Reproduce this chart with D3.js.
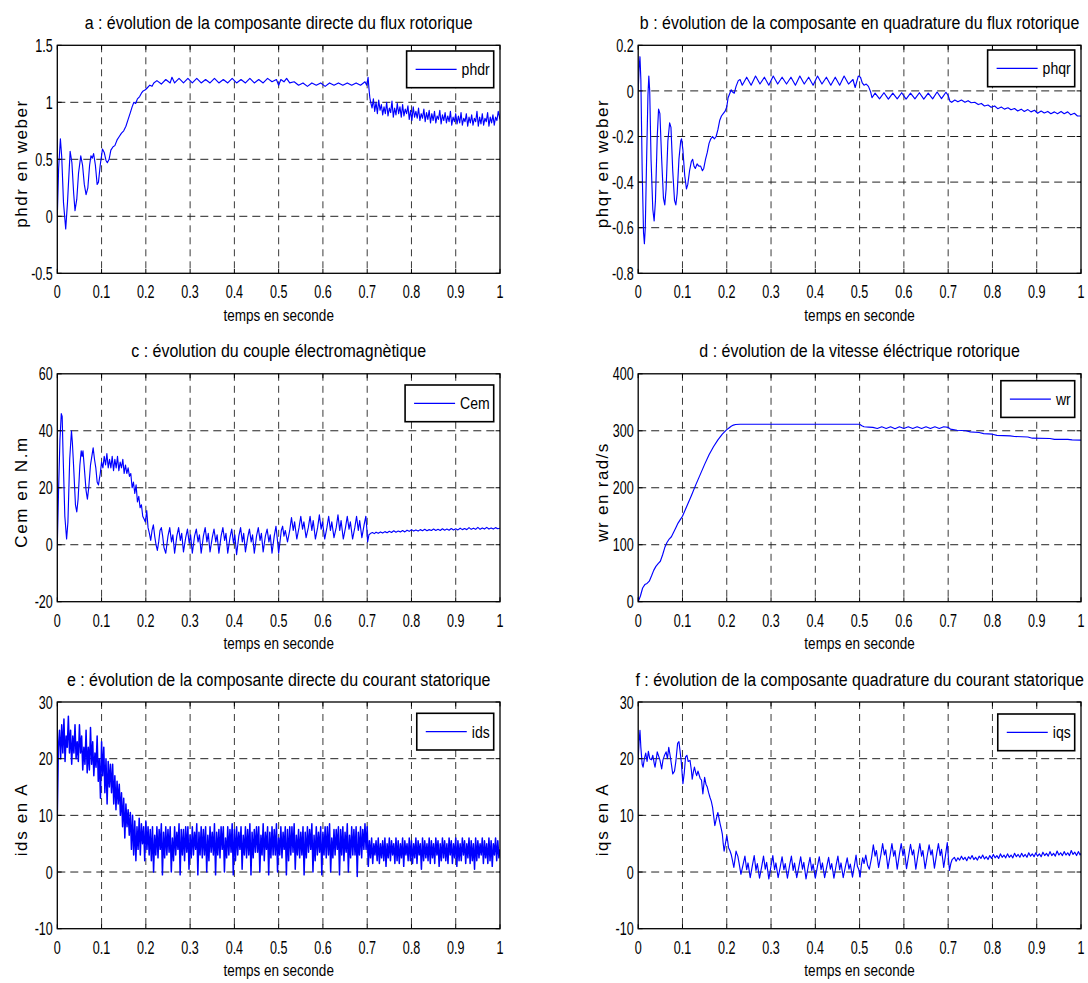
<!DOCTYPE html>
<html>
<head>
<meta charset="utf-8">
<script src="https://cdn.jsdelivr.net/npm/d3@7"></script>
<style>
  body { margin: 0; background: #fff; }
</style>
</head>
<body>
<svg id="fig" width="1088" height="983"></svg>
<script>
// ---- texts --------------------------------------------------------------
const titles = [
  "a : évolution de la composante directe du flux rotorique",
  "b : évolution de la composante en quadrature du flux rotorique",
  "c : évolution du couple électromagnètique",
  "d : évolution de la vitesse éléctrique rotorique",
  "e : évolution de la composante directe du courant statorique",
  "f : évolution de la composante quadrature du courant statorique"
];
const yLabels = ["phdr en weber", "phqr en weber", "Cem en N.m", "wr en rad/s", "ids en A", "iqs en A"];
const legendNames = ["phdr", "phqr", "Cem", "wr", "ids", "iqs"];
const xLabel = "temps en seconde";

// ---- ticks --------------------------------------------------------------
const timeTicks = [0, 0.1, 0.2, 0.3, 0.4, 0.5, 0.6, 0.7, 0.8, 0.9, 1];
const timeTickLabels = ["0", "0.1", "0.2", "0.3", "0.4", "0.5", "0.6", "0.7", "0.8", "0.9", "1"];
const fluxDTicks = [-0.5, 0, 0.5, 1, 1.5];
const fluxDTickLabels = ["-0.5", "0", "0.5", "1", "1.5"];
const fluxQTicks = [-0.8, -0.6, -0.4, -0.2, 0, 0.2];
const fluxQTickLabels = ["-0.8", "-0.6", "-0.4", "-0.2", "0", "0.2"];
const torqueTicks = [-20, 0, 20, 40, 60];
const torqueTickLabels = ["-20", "0", "20", "40", "60"];
const speedTicks = [0, 100, 200, 300, 400];
const speedTickLabels = ["0", "100", "200", "300", "400"];
const currentTicks = [-10, 0, 10, 20, 30];
const currentTickLabels = ["-10", "0", "10", "20", "30"];

// ---- series: [time (s), value] ------------------------------------------
const phdr = [
  [0,0],[0.003,0.42],[0.007,0.68],[0.010,0.52],[0.014,0.12],[0.019,-0.11],[0.023,0.12],[0.029,0.57],
  [0.033,0.47],[0.037,0.2],[0.040,0.05],[0.044,0.15],[0.048,0.38],[0.053,0.53],[0.057,0.45],[0.061,0.28],
  [0.065,0.19],[0.069,0.25],[0.073,0.45],[0.076,0.53],[0.079,0.51],[0.082,0.55],[0.086,0.45],[0.090,0.28],
  [0.093,0.3],[0.097,0.45],[0.102,0.59],[0.106,0.56],[0.110,0.49],[0.113,0.47],[0.117,0.5],[0.121,0.58],
  [0.126,0.61],[0.130,0.62],[0.135,0.67],[0.140,0.7],[0.145,0.73],[0.150,0.75],[0.155,0.79],[0.160,0.85],
  [0.165,0.91],[0.169,0.96],[0.173,1.0],[0.177,0.99],[0.181,1.03],[0.186,1.05],[0.19,1.08],[0.194,1.1],
  [0.199,1.11],[0.204,1.13],[0.209,1.15],[0.214,1.14],[0.218,1.17],
  [0.225,1.19],[0.235,1.16],[0.245,1.2],[0.255,1.17],[0.259,1.22],[0.265,1.17],[0.275,1.21],[0.285,1.17],
  [0.295,1.21],[0.305,1.17],[0.315,1.21],[0.325,1.17],[0.335,1.2],[0.345,1.17],[0.355,1.21],[0.365,1.17],
  [0.375,1.2],[0.385,1.17],[0.395,1.21],[0.405,1.17],[0.415,1.2],[0.425,1.17],[0.435,1.21],[0.445,1.17],
  [0.455,1.2],[0.465,1.17],[0.475,1.21],[0.485,1.18],[0.495,1.2],[0.5,1.15],[0.505,1.2],[0.512,1.18],
  [0.518,1.21],[0.525,1.17],[0.535,1.18],[0.545,1.15],[0.555,1.17],[0.565,1.14],[0.575,1.17],[0.585,1.15],
  [0.595,1.17],[0.605,1.14],[0.615,1.17],[0.625,1.15],[0.635,1.17],[0.645,1.15],[0.655,1.17],[0.665,1.15],
  [0.675,1.17],[0.685,1.15],[0.695,1.18],[0.699,1.15],[0.702,1.22],[0.704,1.12],[0.706,1.04],[0.708,1.0],
  [0.711,0.95],[0.714,1.03],[0.717,0.92],[0.72,1.0],[0.723,0.9],[0.726,1.02],[0.729,0.93],[0.732,0.98],
  [0.735,0.89],[0.738,0.96],[0.741,0.9],[0.744,1.0],[0.747,0.88],[0.75,0.95],[0.753,0.91],[0.756,1.01],
  [0.759,0.87],[0.762,0.95],[0.765,0.89],[0.768,0.99],[0.771,0.9],[0.774,0.96],[0.777,0.87],[0.78,0.98],
  [0.783,0.88],[0.786,0.94],[0.789,0.9],[0.792,0.97],[0.795,0.85],[0.798,0.93],[0.801,0.84],[0.804,0.96],
  [0.807,0.87],[0.81,0.92],[0.813,0.86],[0.816,0.95],[0.819,0.84],[0.822,0.9],[0.825,0.86],[0.828,0.94],
  [0.831,0.83],[0.834,0.91],[0.837,0.85],[0.84,0.93],[0.843,0.82],[0.846,0.9],[0.849,0.84],[0.852,0.92],
  [0.855,0.82],[0.858,0.88],[0.861,0.85],[0.864,0.93],[0.867,0.81],[0.87,0.89],[0.873,0.84],[0.876,0.91],
  [0.879,0.82],[0.882,0.88],[0.885,0.83],[0.888,0.92],[0.891,0.8],[0.894,0.87],[0.897,0.83],[0.9,0.9],
  [0.903,0.81],[0.906,0.88],[0.909,0.82],[0.912,0.91],[0.915,0.8],[0.918,0.86],[0.921,0.83],[0.924,0.9],
  [0.927,0.79],[0.93,0.87],[0.933,0.82],[0.936,0.89],[0.939,0.8],[0.942,0.86],[0.945,0.83],[0.948,0.92],
  [0.951,0.79],[0.954,0.87],[0.957,0.81],[0.96,0.9],[0.963,0.8],[0.966,0.86],[0.969,0.83],[0.972,0.91],
  [0.975,0.79],[0.978,0.87],[0.981,0.82],[0.984,0.89],[0.987,0.8],[0.99,0.87],[0.993,0.84],[0.996,0.92],[1.0,0.85]
];

const phqr = [
  [0,0],[0.002,0.1],[0.004,0.15],[0.006,0.05],[0.009,-0.35],[0.012,-0.62],[0.014,-0.67],[0.016,-0.6],
  [0.019,-0.3],[0.022,-0.02],[0.024,0.065],[0.026,0.0],[0.029,-0.3],[0.033,-0.52],[0.036,-0.57],[0.039,-0.48],
  [0.043,-0.2],[0.046,-0.08],[0.049,-0.1],[0.053,-0.3],[0.057,-0.47],[0.06,-0.5],[0.063,-0.43],[0.067,-0.22],
  [0.071,-0.14],[0.074,-0.16],[0.078,-0.35],[0.082,-0.48],[0.085,-0.5],[0.088,-0.45],[0.092,-0.3],[0.096,-0.22],
  [0.098,-0.21],[0.101,-0.26],[0.105,-0.37],[0.109,-0.43],[0.112,-0.41],[0.116,-0.35],[0.12,-0.31],[0.123,-0.3],
  [0.126,-0.33],[0.129,-0.34],[0.133,-0.32],[0.137,-0.33],[0.141,-0.33],[0.145,-0.35],[0.148,-0.34],[0.152,-0.3],
  [0.156,-0.27],[0.16,-0.23],[0.164,-0.21],[0.168,-0.2],[0.172,-0.21],[0.176,-0.2],[0.18,-0.17],[0.184,-0.13],
  [0.188,-0.11],[0.192,-0.1],[0.196,-0.09],[0.2,-0.07],[0.203,-0.03],[0.207,-0.01],[0.21,0.005],[0.213,-0.005],
  [0.217,-0.01],[0.221,0.02],[0.226,0.045],[0.23,0.05],[0.235,0.025],
  [0.245,0.06],[0.255,0.025],[0.265,0.065],[0.275,0.03],[0.285,0.06],[0.295,0.025],[0.305,0.065],[0.315,0.03],
  [0.325,0.06],[0.335,0.03],[0.345,0.06],[0.355,0.025],[0.365,0.065],[0.375,0.03],[0.385,0.06],[0.395,0.025],
  [0.405,0.065],[0.415,0.03],[0.425,0.06],[0.435,0.025],[0.445,0.06],[0.455,0.025],[0.465,0.065],[0.475,0.03],
  [0.485,0.05],[0.49,0.015],[0.497,0.065],[0.502,0.06],[0.506,0.035],[0.51,0.025],[0.515,0.03],[0.52,0.02],
  [0.525,-0.005],[0.528,-0.03],
  [0.535,-0.01],[0.545,-0.035],[0.555,-0.008],[0.565,-0.036],[0.575,-0.01],[0.585,-0.035],[0.595,-0.008],
  [0.605,-0.036],[0.615,-0.01],[0.625,-0.035],[0.635,-0.008],[0.645,-0.036],[0.655,-0.01],[0.665,-0.035],
  [0.675,-0.005],[0.685,-0.034],[0.695,-0.006],[0.7,-0.02],[0.704,-0.045],[0.708,-0.05],
  [0.715,-0.04],[0.722,-0.048],[0.73,-0.04],[0.738,-0.05],[0.745,-0.043],[0.752,-0.052],[0.76,-0.05],
  [0.768,-0.06],[0.775,-0.055],[0.782,-0.066],[0.79,-0.062],[0.797,-0.072],[0.805,-0.066],[0.812,-0.078],
  [0.82,-0.071],[0.827,-0.08],[0.835,-0.074],[0.842,-0.083],[0.85,-0.077],[0.857,-0.088],[0.865,-0.08],
  [0.872,-0.09],[0.88,-0.082],[0.887,-0.092],[0.895,-0.085],[0.902,-0.098],[0.91,-0.088],[0.917,-0.097],
  [0.925,-0.09],[0.932,-0.1],[0.94,-0.092],[0.947,-0.1],[0.955,-0.09],[0.962,-0.1],[0.97,-0.092],
  [0.977,-0.105],[0.985,-0.098],[0.992,-0.11],[1.0,-0.11]
];

const cem = [
  [0,0],[0.003,20],[0.006,37],[0.009,46],[0.011,45],[0.013,32],[0.017,10],[0.021,2],[0.024,8],[0.028,30],
  [0.032,40],[0.034,36],[0.037,27],[0.041,14],[0.044,11.5],[0.047,16],[0.051,28],[0.054,33],[0.056,31],
  [0.058,33],[0.061,27],[0.065,19],[0.068,16],[0.071,20],[0.075,28],[0.078,31],[0.081,34],[0.084,30],
  [0.087,27],[0.09,22],[0.093,21],[0.097,25],[0.1,29],[0.103,27],[0.106,31],[0.109,28],[0.112,32],
  [0.115,27],[0.118,30],[0.121,27],[0.124,31],[0.127,26],[0.13,30],[0.133,27],[0.136,31],[0.139,26],
  [0.142,29],[0.145,27],[0.148,30],[0.151,25],[0.154,28],[0.157,25],[0.16,27],[0.163,24],[0.166,25],
  [0.169,20],[0.172,22],[0.175,18],[0.178,21],[0.181,15],[0.184,17],[0.187,13],[0.19,14],[0.193,10],
  [0.196,9],[0.199,8],[0.202,12],[0.205,6],[0.208,4],[0.211,1.5],[0.214,5],[0.217,7],[0.22,3],[0.223,0],
  [0.226,-2],[0.229,1],[0.232,5],[0.235,6],[0.238,3],[0.241,-1],
  [0.245,-3],[0.25,3],[0.254,6],[0.258,1],[0.261,3.5],
  [0.265,-3],[0.27,3],[0.274,6],[0.278,1.5],[0.281,4],
  [0.285,-2.5],[0.29,2.5],[0.294,5.5],[0.298,0.5],[0.301,3.5],
  [0.305,-3],[0.31,3],[0.314,5.5],[0.318,1],[0.321,3.5],
  [0.325,-3],[0.33,3],[0.334,6],[0.338,1],[0.341,4],
  [0.345,-2.5],[0.35,2.5],[0.354,5.5],[0.358,1],[0.361,3.5],
  [0.365,-3],[0.37,3],[0.374,6],[0.378,1.5],[0.381,4],
  [0.385,-3],[0.39,2.5],[0.394,5.5],[0.398,0.5],[0.401,3.5],
  [0.405,-3.5],[0.41,3],[0.414,6],[0.418,1],[0.421,4],
  [0.425,-2.5],[0.43,2.5],[0.434,5.5],[0.438,1],[0.441,3.5],
  [0.445,-3],[0.45,3],[0.454,6],[0.458,1.5],[0.461,4],
  [0.465,-2.5],[0.47,3],[0.474,5.5],[0.478,1],[0.481,3.5],
  [0.485,-3],[0.49,3],[0.494,6.5],[0.497,2],[0.5,-3],
  [0.503,1],[0.506,5],[0.509,6.5],[0.512,3],[0.515,5],
  [0.52,1],[0.525,5],[0.529,9.5],[0.533,5],[0.536,8],[0.541,2],
  [0.546,6],[0.55,10],[0.554,5.5],[0.557,8],[0.562,2.5],
  [0.567,6],[0.571,10],[0.575,5],[0.578,8.5],[0.583,2],
  [0.588,6],[0.592,10.5],[0.596,5.5],[0.599,8],[0.604,2],
  [0.609,6],[0.613,10],[0.617,5],[0.62,8],[0.625,2.5],
  [0.63,6],[0.634,10.5],[0.638,5],[0.641,8.5],[0.646,2],
  [0.651,6],[0.655,10],[0.659,5.5],[0.662,8],[0.667,2],
  [0.672,6],[0.676,10],[0.68,5],[0.683,8.5],[0.688,2.5],
  [0.693,7],[0.697,10],[0.699,6],[0.701,1],[0.704,3.5],[0.708,4],
  [0.712,4.3],[0.716,3.9],[0.72,4.4],[0.725,4.0],[0.73,4.5],[0.735,4.1],[0.74,4.6],[0.745,4.2],[0.75,4.7],
  [0.755,4.3],[0.76,4.9],[0.765,4.4],[0.77,4.8],[0.775,4.5],[0.78,5.0],[0.785,4.5],[0.79,5.1],[0.795,4.7],
  [0.8,5.3],[0.805,4.8],[0.81,5.2],[0.815,4.8],[0.82,5.3],[0.825,4.9],[0.83,5.4],[0.835,4.9],[0.84,5.3],
  [0.845,5.0],[0.85,5.5],[0.855,5.0],[0.86,5.4],[0.865,5.0],[0.87,5.6],[0.875,5.1],[0.88,5.5],[0.885,5.1],
  [0.89,5.7],[0.895,5.2],[0.9,5.6],[0.905,5.2],[0.91,5.8],[0.915,5.3],[0.92,5.7],[0.925,5.3],[0.93,6.0],
  [0.935,5.4],[0.94,5.8],[0.945,5.4],[0.95,6.1],[0.955,5.4],[0.96,5.9],[0.965,5.5],[0.97,6.1],[0.975,5.5],
  [0.98,5.9],[0.985,5.5],[0.99,6.0],[0.995,5.6],[1.0,5.8]
];

const wr = [
  [0,0],[0.005,10],[0.01,24],[0.015,30],[0.02,32],[0.025,36],[0.03,45],[0.035,55],[0.04,62],[0.045,67],
  [0.05,71],[0.055,82],[0.06,95],[0.065,104],[0.07,110],[0.075,114],[0.08,122],[0.085,130],[0.09,138],
  [0.095,144],[0.1,150],[0.11,168],[0.12,186],[0.13,205],[0.14,223],[0.15,241],[0.16,258],[0.17,272],
  [0.18,284],[0.19,294],[0.2,302],[0.205,305],[0.21,308],[0.215,310],[0.22,311],[0.23,311.5],[0.3,311.5],
  [0.4,311.5],[0.5,311.5],[0.505,309],[0.51,307],[0.52,306.5],[0.53,306],[0.54,304],[0.55,307],[0.56,304],
  [0.57,307],[0.58,303.5],[0.59,307],[0.6,304],[0.61,307],[0.62,304],[0.63,307],[0.64,304],[0.65,307],
  [0.66,304],[0.67,307],[0.68,304],[0.69,307],[0.7,306],[0.705,303],[0.72,301],[0.74,300],[0.75,298],
  [0.77,297],[0.78,295],[0.8,294],[0.81,292],[0.84,291],[0.85,290],[0.88,289],[0.89,287],[0.93,286.5],
  [0.94,285],[0.97,285],[0.98,284],[1.0,283.5]
];

// ids is sampled every idsStep seconds
const idsStep = 0.0025;
const idsValues = [
  10, 22, 25, 20, 26, 21, 27, 19.5, 24, 22,
  27.5, 21, 25, 19, 24, 21, 26, 20, 23, 19.5,
  26, 21, 24, 18, 22, 19, 25, 17.5, 22, 18,
  25.5, 19, 23, 17, 21, 18.5, 24, 16, 20, 13,
  23,
  17, 22, 14, 20, 12, 19.5, 15, 19, 14, 19,
  12, 17, 11, 16, 12, 15.5, 10, 14, 8, 13,
  6, 12, 8, 11, 6.5, 10.5, 4, 10, 3, 9,
  2, 8, 4, 9.5, 3, 8.5, 5, 8, 2, 9,
  4, 8, 3, 7.5, 2, 8,
  0, 6.5, 3, 8, 2.5, 7.5, 4, 8.5,
  -0.5, 7, 2.5, 8, 3, 7.5, 3.5, 8,
  0, 6, 2, 8, 3, 7, 4, 8.5,
  -0.5, 7.5, 3, 7.5, 2, 8, 3.5, 8,
  0.5, 6.5, 2.5, 8, 3, 7, 4, 8.5,
  -0.5, 7, 3, 8, 2.5, 7.5, 3, 8,
  0, 6.5, 2, 8, 3.5, 7, 3, 8.5,
  -0.5, 7, 3, 7.5, 2.5, 8, 4, 8,
  0, 6, 2.5, 8, 3, 7.5, 3.5, 8.5,
  -0.5, 7.5, 2, 8, 3, 7, 4, 8,
  0.5, 6.5, 3, 8, 2.5, 7.5, 3, 8.5,
  -0.5, 7, 2.5, 7.5, 3.5, 8, 3.5, 8,
  0, 6.5, 3, 8.5, 2, 7, 4, 8,
  -0.5, 7, 2.5, 8, 3, 7.5, 3, 8.5,
  0, 6, 3, 8, 2.5, 7, 4, 8,
  -0.5, 7.5, 2, 8, 3, 8, 3.5, 8.5,
  0.5, 6.5, 3, 7.5, 2.5, 7, 3, 8,
  -0.5, 7, 2.5, 8, 3.5, 7.5, 4, 8.5,
  0, 6.5, 2, 8, 3, 7, 3.5, 8,
  -0.5, 7, 3, 8, 2.5, 8, 3, 8.5,
  0, 6, 2.5, 7.5, 3, 7.5, 4, 8,
  -0.5, 7.5, 3, 8, 2, 7, 3.5, 8.5,
  0, 6.5, 2.5, 8, 3, 7.5, 3, 8,
  -0.8, 7, 3, 8, 2.5, 7.5, 4, 8.5,
  4, 8,
  1, 5.5, 2.5, 6, 1.5, 5, 3, 5.5,
  2, 6, 1.5, 5, 2.5, 5.5, 2, 6,
  1, 5, 2.5, 6, 2, 5.5, 3, 5,
  1.5, 6, 2, 5.5, 1.5, 5, 2.5, 6,
  1, 5.5, 3, 5, 2, 6, 2, 5.5,
  1.5, 5, 2.5, 6, 1.5, 5.5, 3, 5,
  0.5, 6, 2, 5.5, 2.5, 5, 2, 6,
  1.5, 5.5, 2.5, 5, 1.5, 6, 3, 5.5,
  1, 5, 2, 6, 2.5, 5.5, 2, 5,
  1.5, 6, 3, 5.5, 1.5, 5, 2.5, 6,
  1, 5.5, 2, 5, 2, 6, 3, 5.5,
  1.5, 5, 2.5, 6, 1.5, 5.5, 2, 5,
  0.5, 6, 2, 5.5, 2.5, 5, 3, 6,
  1.5, 5.5, 2.5, 5, 1.5, 6, 2, 5.5,
  1, 5, 3, 6, 2, 5.5, 2.5, 4
];
const ids = idsValues.map((v, i) => [i * idsStep, v]);

const iqs = [
  [0,20],[0.002,23],[0.004,25],[0.006,22],[0.009,19],[0.011,18.5],[0.014,20],[0.017,21],[0.02,19.5],
  [0.023,21.3],[0.026,20],[0.03,19.8],[0.033,20.6],[0.036,19.2],[0.038,18.5],[0.041,20],[0.043,21.2],
  [0.046,20.5],[0.049,19.8],[0.053,18.2],[0.056,19.8],[0.059,20.5],[0.063,21.2],[0.066,20],[0.069,22],
  [0.072,20.6],[0.075,19],[0.078,17.3],[0.082,17.8],[0.085,19.5],[0.089,22.7],[0.092,23],[0.095,21],
  [0.097,19.7],[0.101,15.6],[0.104,17.5],[0.107,20.3],[0.11,20.6],[0.113,19.5],[0.117,19.7],[0.12,18],
  [0.122,16.4],[0.125,17.8],[0.127,18.5],[0.13,17.5],[0.132,17],[0.135,17.8],[0.137,17.3],[0.14,16.5],
  [0.143,16.2],[0.146,13.8],[0.15,16.7],[0.153,15.5],[0.156,15],[0.159,14],[0.162,13.2],[0.165,12.5],
  [0.168,11.4],[0.171,9.5],[0.173,8.2],[0.177,9.6],[0.18,10.5],[0.183,9.3],[0.185,8.5],[0.188,7.5],
  [0.19,6.7],[0.192,5],[0.194,3.7],[0.197,5],[0.2,6.4],[0.202,5.5],[0.204,4.3],[0.207,3.8],[0.21,3.1],
  [0.213,2],[0.216,0.8],[0.219,2.5],[0.221,3.7],[0.223,3.2],[0.225,2.8],[0.228,1.5],[0.232,-0.4],
  [0.236,1],[0.241,2.8],[0.245,0.4],[0.248,1.6],[0.253,-1],[0.258,1.2],[0.262,2.9],[0.266,0.3],[0.269,1.5],
  [0.274,-1.1],[0.279,1],[0.283,2.8],[0.287,0.5],[0.29,1.7],[0.295,-1.2],[0.3,1.1],[0.304,2.9],[0.308,0.4],
  [0.311,1.6],[0.316,-1],[0.321,1],[0.325,2.7],[0.329,0.4],[0.332,1.5],[0.337,-1.1],[0.342,1.2],[0.346,2.8],
  [0.35,0.3],[0.353,1.6],[0.358,-1],[0.363,1],[0.367,2.7],[0.371,0.5],[0.374,1.7],[0.379,-1.2],[0.384,1],
  [0.388,2.6],[0.392,0.3],[0.395,1.4],[0.4,-1.1],[0.405,1.1],[0.409,2.7],[0.413,0.4],[0.416,1.6],[0.421,-1],
  [0.426,1],[0.43,2.6],[0.434,0.5],[0.437,1.5],[0.442,-1.1],[0.447,1.2],[0.451,2.8],[0.455,0.4],[0.458,1.6],
  [0.463,-1],[0.468,1],[0.472,2.5],[0.476,0.5],[0.479,1.4],[0.484,-0.9],[0.489,1.5],[0.492,3],[0.495,1],
  [0.498,0.5],[0.501,-0.9],[0.504,1.2],[0.507,2.5],[0.51,1.5],[0.514,3],[0.518,1.2],[0.522,0.5],
  [0.527,2.5],[0.531,4.8],[0.535,2.8],[0.538,3.8],[0.543,0.8],[0.548,3],[0.552,5],[0.556,3],[0.559,3.9],
  [0.564,0.6],[0.569,3],[0.573,5],[0.577,2.8],[0.58,3.8],[0.585,0.5],[0.59,3.2],[0.594,5],[0.598,2.9],
  [0.601,4],[0.606,0.6],[0.611,3],[0.615,4.9],[0.619,3],[0.622,3.9],[0.627,0.5],[0.632,3.1],[0.636,5],
  [0.64,2.8],[0.643,3.8],[0.648,0.6],[0.653,3],[0.657,4.8],[0.661,3],[0.664,3.9],[0.669,0.7],[0.674,3.2],
  [0.678,5],[0.682,2.9],[0.685,4],[0.69,0.8],[0.695,3.5],[0.698,5.2],[0.701,2],[0.703,0.3],[0.706,1.5],
  [0.709,2.2],
  [0.714,2.6],[0.718,1.9],[0.722,2.5],[0.726,2.1],[0.73,2.8],[0.734,2.2],[0.738,2.6],[0.742,2.0],[0.746,2.7],
  [0.75,2.3],[0.754,2.9],[0.758,2.2],[0.762,2.6],[0.766,2.1],[0.77,2.8],[0.774,2.4],[0.778,3.0],[0.782,2.3],
  [0.786,2.7],[0.79,2.2],[0.794,2.9],[0.798,2.4],[0.802,3.1],[0.806,2.5],[0.81,2.9],[0.814,2.4],[0.818,3.2],
  [0.822,2.6],[0.826,3.0],[0.83,2.5],[0.834,3.2],[0.838,2.6],[0.842,3.0],[0.846,2.5],[0.85,3.3],[0.854,2.7],
  [0.858,3.1],[0.862,2.6],[0.866,3.3],[0.87,2.7],[0.874,3.1],[0.878,2.6],[0.882,3.4],[0.886,2.8],[0.89,3.2],
  [0.894,2.7],[0.898,3.4],[0.902,2.8],[0.906,3.2],[0.91,2.7],[0.914,3.5],[0.918,2.9],[0.922,3.3],[0.926,2.8],
  [0.93,3.6],[0.934,2.9],[0.938,3.3],[0.942,2.8],[0.946,3.7],[0.95,3.0],[0.954,3.4],[0.958,2.9],[0.962,3.6],
  [0.966,3.0],[0.97,3.4],[0.974,2.9],[0.978,3.8],[0.982,3.1],[0.986,3.5],[0.99,2.9],[0.994,3.6],[0.998,3.0],
  [1.0,3.3]
];

// ---- layout -------------------------------------------------------------
const cols = [[57.3, 500], [638.2, 1081]];
const rows = [[45.3, 273.3], [373.8, 601.7], [702, 928.7]];

const panels = [
  { col: 0, row: 0, data: phdr, domain: [-0.5, 1.5], ticks: fluxDTicks, tickLabels: fluxDTickLabels, yLabelLen: 127, legendTop: 5.7, width: 1.15 },
  { col: 1, row: 0, data: phqr, domain: [-0.8, 0.2], ticks: fluxQTicks, tickLabels: fluxQTickLabels, yLabelLen: 128, legendTop: 4.7, width: 1.15 },
  { col: 0, row: 1, data: cem,  domain: [-20, 60],   ticks: torqueTicks, tickLabels: torqueTickLabels, yLabelLen: 110, legendTop: 11.2, width: 1.15 },
  { col: 1, row: 1, data: wr,   domain: [0, 400],    ticks: speedTicks, tickLabels: speedTickLabels, yLabelLen: 98, legendTop: 6.9, width: 1.15 },
  { col: 0, row: 2, data: ids,  domain: [-10, 30],   ticks: currentTicks, tickLabels: currentTickLabels, yLabelLen: 72, legendTop: 11.3, width: 1.5 },
  { col: 1, row: 2, data: iqs,  domain: [-10, 30],   ticks: currentTicks, tickLabels: currentTickLabels, yLabelLen: 72, legendTop: 12, width: 1.15 }
];

const svg = d3.select("#fig")
  .attr("font-family", '"Liberation Sans", Arial, Helvetica, sans-serif');
svg.append("rect").attr("width", 1088).attr("height", 983).attr("fill", "#fff");

// Text drawn with a horizontal squeeze (narrow look of the plot fonts)
function addText(parent, x, y, str, o) {
  const g = parent.append("g")
    .attr("transform", `translate(${x},${y})` + (o.rot ? ` rotate(${o.rot})` : "") + ` scale(${o.sx || 1},1)`);
  const t = g.append("text")
    .attr("text-anchor", o.anchor || "start")
    .attr("font-size", o.size)
    .attr("fill", o.fill || "#000")
    .text(str);
  if (o.len) t.attr("textLength", o.len).attr("lengthAdjust", "spacing");
  return t;
}

const defs = svg.append("defs");
const TICK = 4.4;

panels.forEach((p, i) => {
  const [x0, x1] = cols[p.col];
  const [y0, y1] = rows[p.row];
  const x = d3.scaleLinear().domain([0, 1]).range([x0, x1]);
  const y = d3.scaleLinear().domain(p.domain).range([y1, y0]);
  const g = svg.append("g");

  // grid
  const grid = g.append("g").attr("fill", "none").attr("stroke-width", 1);
  timeTicks.slice(1, -1).forEach(t => {
    grid.append("line").attr("x1", x(t)).attr("x2", x(t)).attr("y1", y0).attr("y2", y1)
      .attr("stroke", "#3a3a3a").attr("stroke-dasharray", "7,5");
  });
  p.ticks.slice(1, -1).forEach(v => {
    grid.append("line").attr("x1", x0).attr("x2", x1).attr("y1", y(v)).attr("y2", y(v))
      .attr("stroke", "#222").attr("stroke-dasharray", "8,5");
  });

  // series
  defs.append("clipPath").attr("id", "clip" + i)
    .append("rect").attr("x", x0).attr("y", y0).attr("width", x1 - x0).attr("height", y1 - y0);
  const line = d3.line().x(d => x(d[0])).y(d => y(d[1]));
  g.append("path").datum(p.data)
    .attr("clip-path", `url(#clip${i})`)
    .attr("fill", "none").attr("stroke", "#0000ff").attr("stroke-width", p.width)
    .attr("stroke-linejoin", "round")
    .attr("d", line);

  // axes box and inward ticks
  g.append("rect").attr("x", x0).attr("y", y0).attr("width", x1 - x0).attr("height", y1 - y0)
    .attr("fill", "none").attr("stroke", "#000").attr("stroke-width", 1.3);
  const tk = g.append("g").attr("stroke", "#000").attr("stroke-width", 1);
  timeTicks.forEach(t => {
    tk.append("line").attr("x1", x(t)).attr("x2", x(t)).attr("y1", y1).attr("y2", y1 - TICK);
    tk.append("line").attr("x1", x(t)).attr("x2", x(t)).attr("y1", y0).attr("y2", y0 + TICK);
  });
  p.ticks.forEach(v => {
    tk.append("line").attr("x1", x0).attr("x2", x0 + TICK).attr("y1", y(v)).attr("y2", y(v));
    tk.append("line").attr("x1", x1).attr("x2", x1 - TICK).attr("y1", y(v)).attr("y2", y(v));
  });

  // tick labels
  timeTicks.forEach((t, k) => addText(g, x(t), y1 + 25, timeTickLabels[k], { size: 18.5, sx: 0.68, anchor: "middle" }));
  p.ticks.forEach((v, k) => addText(g, x0 - 4.5, y(v) + 6.6, p.tickLabels[k], { size: 18.5, sx: 0.68, anchor: "end" }));

  // title and axis labels
  addText(g, (x0 + x1) / 2, y0 - 16.5, titles[i], { size: 18.8, sx: 0.85, anchor: "middle" });
  addText(g, (x0 + x1) / 2, y1 + 47.5, xLabel, { size: 16.5, sx: 0.82, anchor: "middle" });
  addText(g, x0 - 30.5, (y0 + y1) / 2 + 5, yLabels[i], { size: 17, rot: -90, anchor: "middle", len: p.yLabelLen });

  // legend
  const name = legendNames[i];
  const tmp = g.append("text").attr("font-size", 16.5).text(name);
  const nameW = tmp.node().getComputedTextLength() * 0.85;
  tmp.remove();
  const bw = 9 + 41 + 5 + nameW + 4, bh = 36.7;
  const bx = x1 - 6.3 - bw, by = y0 + p.legendTop;
  const lg = g.append("g");
  lg.append("rect").attr("x", bx).attr("y", by).attr("width", bw).attr("height", bh)
    .attr("fill", "#fff").attr("stroke", "#000").attr("stroke-width", 1.6);
  lg.append("line").attr("x1", bx + 9).attr("x2", bx + 50).attr("y1", by + bh / 2).attr("y2", by + bh / 2)
    .attr("stroke", "#0000ff").attr("stroke-width", 1.15);
  addText(lg, bx + 55, by + bh / 2 + 6, name, { size: 16.5, sx: 0.85 });
});
</script>
</body>
</html>
